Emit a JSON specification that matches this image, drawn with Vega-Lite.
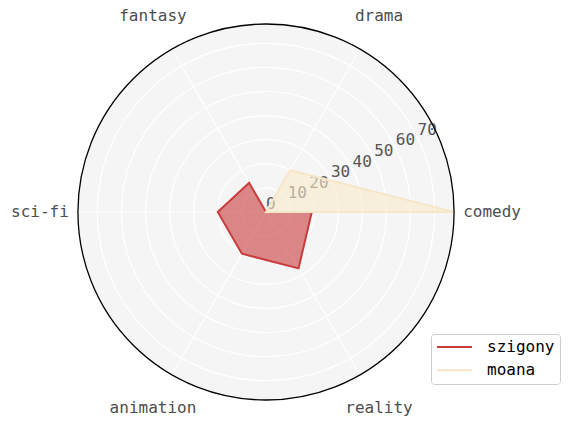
{
  "$schema": "https://vega.github.io/schema/vega-lite/v6.json",
  "width": 376,
  "height": 376,
  "autosize": {"type": "none"},
  "padding": {"left": 78, "top": 24, "right": 115, "bottom": 26},
  "background": "white",
  "config": {"view": {"stroke": null}, "font": "DejaVu Sans Mono"},
  "datasets": {
    "scores": [
      {"series": "szigony", "category": "comedy", "idx": 0, "value": 19},
      {"series": "szigony", "category": "drama", "idx": 1, "value": 0},
      {"series": "szigony", "category": "fantasy", "idx": 2, "value": 14},
      {"series": "szigony", "category": "sci-fi", "idx": 3, "value": 20},
      {"series": "szigony", "category": "animation", "idx": 4, "value": 20},
      {"series": "szigony", "category": "reality", "idx": 5, "value": 27},
      {"series": "moana", "category": "comedy", "idx": 0, "value": 78},
      {"series": "moana", "category": "drama", "idx": 1, "value": 20},
      {"series": "moana", "category": "fantasy", "idx": 2, "value": 0},
      {"series": "moana", "category": "sci-fi", "idx": 3, "value": 0},
      {"series": "moana", "category": "animation", "idx": 4, "value": 0},
      {"series": "moana", "category": "reality", "idx": 5, "value": 0}
    ],
    "cats": [
      {"category": "comedy", "idx": 0},
      {"category": "drama", "idx": 1},
      {"category": "fantasy", "idx": 2},
      {"category": "sci-fi", "idx": 3},
      {"category": "animation", "idx": 4},
      {"category": "reality", "idx": 5}
    ],
    "rings": [{"r": 10}, {"r": 20}, {"r": 30}, {"r": 40}, {"r": 50}, {"r": 60}, {"r": 70}],
    "ticks": [{"v": 0}, {"v": 10}, {"v": 20}, {"v": 30}, {"v": 40}, {"v": 50}, {"v": 60}, {"v": 70}],
    "edge": [{"r": 78}]
  },
  "layer": [
    {
      "data": {"name": "edge"},
      "mark": {"type": "arc", "theta": 0, "theta2": 6.2832, "fill": "#f5f5f5"},
      "encoding": {
        "radius": {"field": "r", "type": "quantitative", "stack": null, "scale": {"type": "linear", "domain": [0, 78], "range": [0, 188], "zero": true}}
      }
    },
    {
      "data": {"name": "rings"},
      "mark": {"type": "arc", "theta": 0, "theta2": 6.2832, "fillOpacity": 0, "stroke": "white", "strokeWidth": 1.2},
      "encoding": {
        "radius": {"field": "r", "type": "quantitative", "stack": null, "scale": {"type": "linear", "domain": [0, 78], "range": [0, 188], "zero": true}}
      }
    },
    {
      "data": {"name": "cats"},
      "transform": [
        {"calculate": "datum.idx * PI / 3", "as": "a"},
        {"calculate": "0", "as": "ox"},
        {"calculate": "78 * cos(datum.a)", "as": "ex"},
        {"calculate": "78 * sin(datum.a)", "as": "ey"}
      ],
      "mark": {"type": "rule", "stroke": "white", "strokeWidth": 1.2},
      "encoding": {
        "x": {"field": "ox", "type": "quantitative", "scale": {"domain": [-78, 78], "nice": false, "zero": false}, "axis": null},
        "y": {"field": "ox", "type": "quantitative", "scale": {"domain": [-78, 78], "nice": false, "zero": false}, "axis": null},
        "x2": {"field": "ex"},
        "y2": {"field": "ey"}
      }
    },
    {
      "data": {"name": "ticks"},
      "transform": [
        {"calculate": "datum.v * cos(26.1 * PI / 180)", "as": "tx"},
        {"calculate": "datum.v * sin(26.1 * PI / 180)", "as": "ty"}
      ],
      "mark": {"type": "text", "align": "left", "baseline": "middle", "dx": 0, "dy": -8, "fontSize": 16, "fill": "#555555", "font": "DejaVu Sans Mono"},
      "encoding": {
        "x": {"field": "tx", "type": "quantitative", "scale": {"domain": [-78, 78], "nice": false, "zero": false}, "axis": null},
        "y": {"field": "ty", "type": "quantitative", "scale": {"domain": [-78, 78], "nice": false, "zero": false}, "axis": null},
        "text": {"field": "v", "type": "quantitative"}
      }
    },
    {
      "data": {"name": "scores"},
      "transform": [
        {"filter": "datum.series == 'szigony'"},
        {"calculate": "datum.idx * PI / 3", "as": "a"},
        {"calculate": "datum.value * cos(datum.a)", "as": "px"},
        {"calculate": "datum.value * sin(datum.a)", "as": "py"}
      ],
      "mark": {"type": "line", "interpolate": "linear-closed", "filled": true, "color": "#c83c3c", "fillOpacity": 0.6},
      "encoding": {
        "x": {"field": "px", "type": "quantitative", "scale": {"domain": [-78, 78], "nice": false, "zero": false}, "axis": null},
        "y": {"field": "py", "type": "quantitative", "scale": {"domain": [-78, 78], "nice": false, "zero": false}, "axis": null},
        "order": {"field": "idx", "type": "quantitative"}
      }
    },
    {
      "data": {"name": "scores"},
      "transform": [
        {"filter": "datum.series == 'szigony'"},
        {"calculate": "datum.idx * PI / 3", "as": "a"},
        {"calculate": "datum.value * cos(datum.a)", "as": "px"},
        {"calculate": "datum.value * sin(datum.a)", "as": "py"}
      ],
      "mark": {"type": "line", "interpolate": "linear-closed", "strokeWidth": 2},
      "encoding": {
        "x": {"field": "px", "type": "quantitative", "scale": {"domain": [-78, 78], "nice": false, "zero": false}, "axis": null},
        "y": {"field": "py", "type": "quantitative", "scale": {"domain": [-78, 78], "nice": false, "zero": false}, "axis": null},
        "order": {"field": "idx", "type": "quantitative"},
        "color": {
          "field": "series", "type": "nominal",
          "scale": {"domain": ["szigony", "moana"], "range": ["#c83c3c", "#f8e6c8"]},
          "legend": {
            "orient": "none", "legendX": 353, "legendY": 310, "title": null,
            "symbolType": "stroke", "symbolSize": 1225, "symbolStrokeWidth": 2,
            "clipHeight": 16,
            "labelFont": "DejaVu Sans Mono", "labelFontSize": 16, "labelColor": "#000000",
            "labelOffset": 14, "padding": 5, "rowPadding": 7.3,
            "fillColor": "white", "strokeColor": "#cccccc", "cornerRadius": 3
          }
        }
      }
    },
    {
      "data": {"name": "scores"},
      "transform": [
        {"filter": "datum.series == 'moana'"},
        {"calculate": "datum.idx * PI / 3", "as": "a"},
        {"calculate": "datum.value * cos(datum.a)", "as": "px"},
        {"calculate": "datum.value * sin(datum.a)", "as": "py"}
      ],
      "mark": {"type": "line", "interpolate": "linear-closed", "filled": true, "color": "#faeacb", "fillOpacity": 0.6},
      "encoding": {
        "x": {"field": "px", "type": "quantitative", "scale": {"domain": [-78, 78], "nice": false, "zero": false}, "axis": null},
        "y": {"field": "py", "type": "quantitative", "scale": {"domain": [-78, 78], "nice": false, "zero": false}, "axis": null},
        "order": {"field": "idx", "type": "quantitative"}
      }
    },
    {
      "data": {"name": "scores"},
      "transform": [
        {"filter": "datum.series == 'moana'"},
        {"calculate": "datum.idx * PI / 3", "as": "a"},
        {"calculate": "datum.value * cos(datum.a)", "as": "px"},
        {"calculate": "datum.value * sin(datum.a)", "as": "py"}
      ],
      "mark": {"type": "line", "interpolate": "linear-closed", "strokeWidth": 2},
      "encoding": {
        "x": {"field": "px", "type": "quantitative", "scale": {"domain": [-78, 78], "nice": false, "zero": false}, "axis": null},
        "y": {"field": "py", "type": "quantitative", "scale": {"domain": [-78, 78], "nice": false, "zero": false}, "axis": null},
        "order": {"field": "idx", "type": "quantitative"},
        "color": {"field": "series", "type": "nominal", "scale": {"domain": ["szigony", "moana"], "range": ["#c83c3c", "#f8e6c8"]}}
      }
    },
    {
      "data": {"name": "edge"},
      "mark": {"type": "arc", "theta": 0, "theta2": 6.2832, "fillOpacity": 0, "stroke": "black", "strokeWidth": 1.3},
      "encoding": {
        "radius": {"field": "r", "type": "quantitative", "stack": null, "scale": {"type": "linear", "domain": [0, 78], "range": [0, 188], "zero": true}}
      }
    },
    {
      "data": {"name": "cats"},
      "transform": [
        {"calculate": "datum.idx * PI / 3", "as": "a"},
        {"calculate": "93.8 * cos(datum.a)", "as": "lx"},
        {"calculate": "93.8 * sin(datum.a)", "as": "ly"}
      ],
      "mark": {"type": "text", "align": "center", "baseline": "middle", "fontSize": 16, "fill": "#4d4d4d", "font": "DejaVu Sans Mono"},
      "encoding": {
        "x": {"field": "lx", "type": "quantitative", "scale": {"domain": [-78, 78], "nice": false, "zero": false}, "axis": null},
        "y": {"field": "ly", "type": "quantitative", "scale": {"domain": [-78, 78], "nice": false, "zero": false}, "axis": null},
        "text": {"field": "category", "type": "nominal"}
      }
    }
  ]
}
